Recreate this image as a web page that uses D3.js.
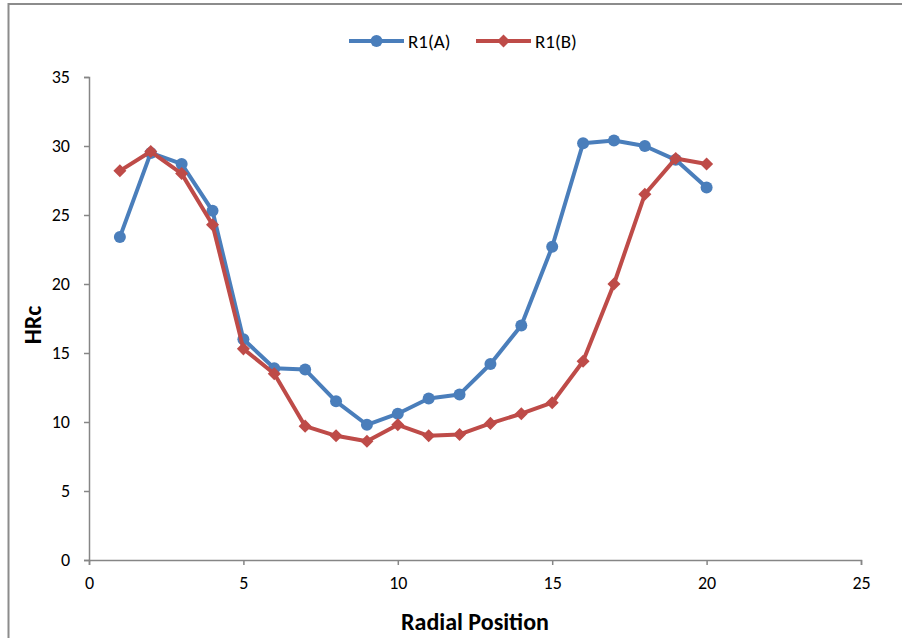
<!DOCTYPE html>
<html>
<head>
<meta charset="utf-8">
<script src="https://cdn.jsdelivr.net/npm/d3@7/dist/d3.min.js"></script>
<style>
  html, body { margin: 0; padding: 0; background: #fff; }
  svg { display: block; }
  text { font-family: Carlito, Calibri, Lato, "Open Sans", sans-serif; fill: #000; }
</style>
</head>
<body>
<svg id="chart" width="902" height="638"></svg>
<script>
// Radial positions and hardness readings for the two series
const positions = [1, 2, 3, 4, 5, 6, 7, 8, 9, 10, 11, 12, 13, 14, 15, 16, 17, 18, 19, 20];
const seriesA = [23.4, 29.5, 28.7, 25.3, 16.0, 13.9, 13.8, 11.5, 9.8, 10.6, 11.7, 12.0, 14.2, 17.0, 22.7, 30.2, 30.4, 30.0, 29.0, 27.0];
const seriesB = [28.2, 29.6, 28.0, 24.3, 15.3, 13.5, 9.7, 9.0, 8.6, 9.8, 9.0, 9.1, 9.9, 10.6, 11.4, 14.4, 20.0, 26.5, 29.1, 28.7];
const seriesNames = ["R1(A)", "R1(B)"];
const xTicks = [0, 5, 10, 15, 20, 25];
const yTicks = [0, 5, 10, 15, 20, 25, 30, 35];

const colors = ["#4A7EBB", "#BE4B48"];
const svg = d3.select("#chart");

// Outer frame (runs past the right and bottom edges)
svg.append("rect")
  .attr("x", 8.5).attr("y", 4)
  .attr("width", 1000).attr("height", 1000)
  .attr("fill", "none").attr("stroke", "#8C8C8C").attr("stroke-width", 2);

const x = d3.scaleLinear().domain([0, 25]).range([89, 861]);
const y = d3.scaleLinear().domain([0, 35]).range([560, 77]);

const axisColor = "#868686";

// Y axis
const gy = svg.append("g").attr("transform", `translate(${x(0)},0)`)
  .call(d3.axisLeft(y).tickValues(yTicks).tickSize(5).tickPadding(14).tickFormat(d3.format("d")));
gy.select(".domain").attr("stroke", axisColor).attr("stroke-width", 1.5);
gy.selectAll(".tick line").attr("stroke", axisColor).attr("stroke-width", 1.5);
gy.selectAll(".tick text").style("font-size", "18px").attr("fill", "#000");

// X axis
const gx = svg.append("g").attr("transform", `translate(0,${y(0)})`)
  .call(d3.axisBottom(x).tickValues(xTicks).tickSize(5).tickPadding(11).tickFormat(d3.format("d")));
gx.select(".domain").attr("stroke", axisColor).attr("stroke-width", 1.5);
gx.selectAll(".tick line").attr("stroke", axisColor).attr("stroke-width", 1.5);
gx.selectAll(".tick text").style("font-size", "18px").attr("fill", "#000");

// Axis titles
svg.append("text")
  .attr("x", 475).attr("y", 630)
  .attr("text-anchor", "middle")
  .style("font-size", "24px").style("font-weight", "bold")
  .text("Radial Position");

svg.append("text")
  .attr("transform", "translate(41,325) rotate(-90)")
  .attr("text-anchor", "middle")
  .style("font-size", "24px").style("font-weight", "bold")
  .text("HRc");

// Series lines and markers (circle for A, square-rotated diamond for B)
const line = d3.line().x(d => x(d[0])).y(d => y(d[1]));
const diamond = d3.symbol().type(d3.symbolSquare).size(85);

[seriesA, seriesB].forEach((vals, i) => {
  const pts = positions.map((p, k) => [p, vals[k]]);
  svg.append("path")
    .datum(pts)
    .attr("d", line)
    .attr("fill", "none")
    .attr("stroke", colors[i])
    .attr("stroke-width", 4)
    .attr("stroke-linejoin", "round");
  const g = svg.append("g");
  if (i === 0) {
    g.selectAll("circle").data(pts).join("circle")
      .attr("cx", d => x(d[0])).attr("cy", d => y(d[1]))
      .attr("r", 6).attr("fill", colors[i]);
  } else {
    g.selectAll("path").data(pts).join("path")
      .attr("transform", d => `translate(${x(d[0])},${y(d[1])}) rotate(45)`)
      .attr("d", diamond).attr("fill", colors[i]);
  }
});

// Legend
const legend = [
  { x0: 349, x1: 404, tx: 408 },
  { x0: 476, x1: 531, tx: 535 }
];
legend.forEach((L, i) => {
  const g = svg.append("g");
  g.append("line")
    .attr("x1", L.x0).attr("x2", L.x1).attr("y1", 41).attr("y2", 41)
    .attr("stroke", colors[i]).attr("stroke-width", 4);
  const cx = (L.x0 + L.x1) / 2;
  if (i === 0) {
    g.append("circle").attr("cx", cx).attr("cy", 41).attr("r", 6).attr("fill", colors[i]);
  } else {
    g.append("path").attr("transform", `translate(${cx},41) rotate(45)`).attr("d", diamond).attr("fill", colors[i]);
  }
  g.append("text")
    .attr("x", L.tx).attr("y", 48)
    .style("font-size", "19px")
    .text(seriesNames[i]);
});
</script>
</body>
</html>
